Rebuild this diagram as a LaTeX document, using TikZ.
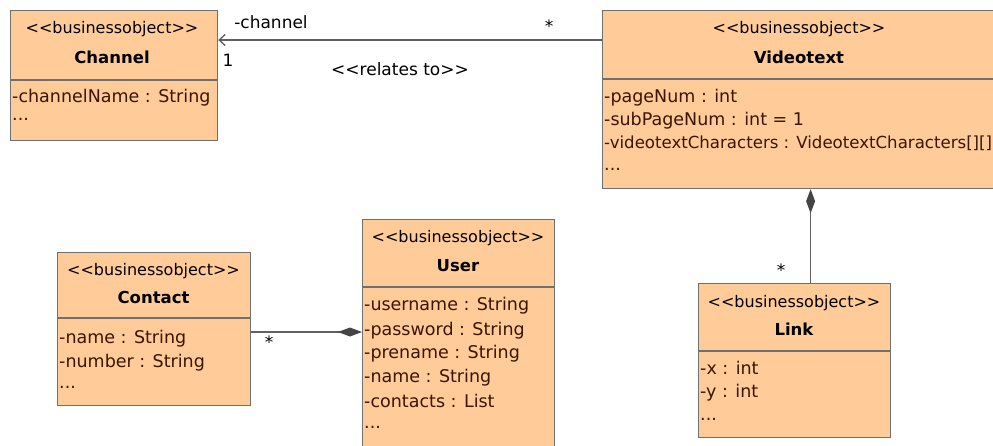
\documentclass[tikz,border=0pt]{standalone}
\usepackage{fontspec}
\setmainfont[Ligatures={NoCommon}]{DejaVu Sans}
\usetikzlibrary{arrows.meta}
\definecolor{boxfill}{HTML}{FFCC99}
\definecolor{boxline}{HTML}{707070}
\definecolor{attrcol}{HTML}{3A1500}
\definecolor{conn}{HTML}{606060}
\definecolor{diam}{HTML}{454545}
\newcommand{\lt}{<\kern0pt}
\newcommand{\gtt}{>\kern0pt}
\tikzset{
  classbox/.style={draw=boxline, line width=1.2pt, fill=boxfill, anchor=north west, inner sep=0pt},
  stereo/.style={font=\fontsize{16}{18}\selectfont, anchor=base, inner sep=0pt},
  cname/.style={font=\fontsize{16.5}{20}\selectfont\bfseries, anchor=base, inner sep=0pt},
  attr/.style={font=\fontsize{17.5}{20}\selectfont, text=attrcol, anchor=base west, inner sep=0pt},
  lbl/.style={font=\fontsize{17}{18}\selectfont, inner sep=0pt, anchor=base},
  divider/.style={draw=boxline, line width=1.2pt},
  conline/.style={draw=conn, line width=1.3pt},
  comp/.style={conline, {Diamond[length=24pt,width=9pt,fill=diam,color=diam]}-},
  openarr/.style={conline, -{Straight Barb[length=6pt,width=11pt,line width=1.3pt]}}
}
\begin{document}
\begin{tikzpicture}[x=1pt,y=-1pt]
\useasboundingbox (0,0) rectangle (993,445);
\fill[white] (0,0) rectangle (993,445);

% Channel
\node[classbox, minimum width=207pt, minimum height=130pt] (channel) at (10,10) {};
\draw[divider] (10,80) -- (217,80);
\node[stereo] (chst) at (112,33) {\lt\lt businessobject\gtt\gtt};
\node[cname] (chnm) at (112,63) {Channel};
\node[attr] (cha1) at (12,102) {-channelName : String};
\node[attr] (cha2) at (12,120) {...};

% Videotext
\node[classbox, minimum width=400pt, minimum height=178pt] (video) at (602,10) {};
\draw[divider] (602,79) -- (1002,79);
\node[stereo] (vist) at (799,33) {\lt\lt businessobject\gtt\gtt};
\node[cname] (vinm) at (799,63) {Videotext};
\node[attr] (via1) at (604,102) {-pageNum : int};
\node[attr] (via2) at (604,125) {-subPageNum : int = 1};
\node[attr, font=\fontsize{16.6}{20}\selectfont] (via3) at (604,148) {-videotextCharacters : VideotextCharacters[][]};
\node[attr] (via4) at (604,170) {...};

% Contact
\node[classbox, minimum width=193pt, minimum height=153pt] (contact) at (57,252) {};
\draw[divider] (57,318) -- (250,318);
\node[stereo] (cost) at (153.5,275) {\lt\lt businessobject\gtt\gtt};
\node[cname] (conm) at (153.5,303) {Contact};
\node[attr] (coa1) at (59,343) {-name : String};
\node[attr] (coa2) at (59,367) {-number : String};
\node[attr] (coa3) at (59,388) {...};

% User
\node[classbox, minimum width=192pt, minimum height=240pt] (user) at (362,219) {};
\draw[divider] (362,287) -- (554,287);
\node[stereo] (usst) at (458,242) {\lt\lt businessobject\gtt\gtt};
\node[cname] (usnm) at (458,271) {User};
\node[attr] (usa1) at (364,310) {-username : String};
\node[attr] (usa2) at (364,335) {-password : String};
\node[attr] (usa3) at (364,358) {-prename : String};
\node[attr] (usa4) at (364,382) {-name : String};
\node[attr] (usa5) at (364,407) {-contacts : List};
\node[attr] (usa6) at (364,428) {...};

% Link
\node[classbox, minimum width=192pt, minimum height=154pt] (link) at (698,283) {};
\draw[divider] (698,351) -- (890,351);
\node[stereo] (list) at (794,307) {\lt\lt businessobject\gtt\gtt};
\node[cname] (linm) at (794,335) {Link};
\node[attr] (lia1) at (700,374) {-x : int};
\node[attr] (lia2) at (700,397) {-y : int};
\node[attr] (lia3) at (700,420) {...};

% Connectors
\draw[openarr] ([yshift=-30pt]video.north west) -- ([yshift=-30pt]channel.north east);
\node[lbl] (l1) at (271,28) {-channel};
\node[lbl] (l2) at (549,32) {*};
\node[lbl] (l3) at (228,66) {1};
\node[lbl] (l4) at (400,75) {\lt\lt relates to\gtt\gtt};

\draw[comp] ([yshift=-113pt]user.north west) -- ([yshift=-80pt]contact.north east);
\node[lbl] (l5) at (269,348) {*};

\draw[comp] ([xshift=16pt]link.north |- video.south) -- ([xshift=16pt]link.north);
\node[lbl] (l6) at (781,276) {*};
\end{tikzpicture}
\end{document}
